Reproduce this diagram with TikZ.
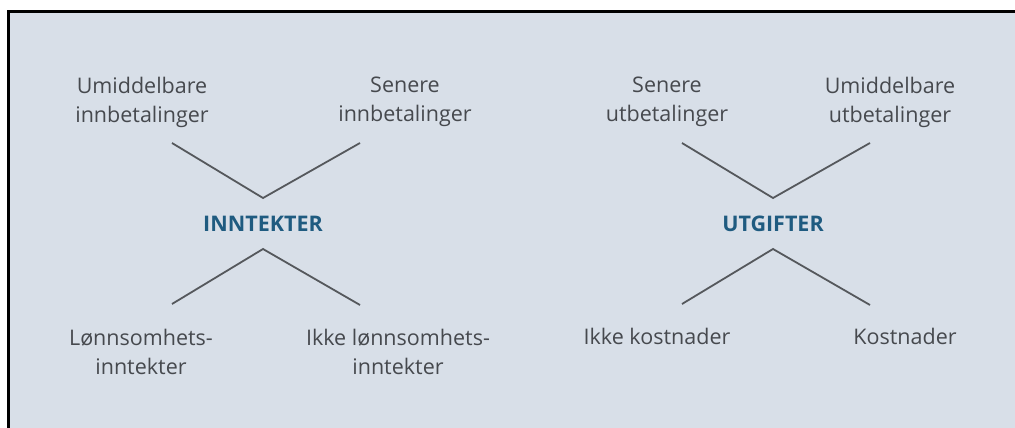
\documentclass[tikz,border=0pt]{standalone}
\usepackage{fontspec}
\setmainfont{Open Sans}

\definecolor{panelbg}{HTML}{D8DFE8}
\definecolor{leaftext}{HTML}{46494E}
\definecolor{headtext}{HTML}{1F5B80}
\definecolor{branchline}{HTML}{55585C}

\newcommand\topy{102}
\newcommand\boty{352}
\newcommand\heady{231}
\newcommand\forky{198}
\newcommand\splity{249}

\tikzset{
  leafbox/.style={text=leaftext, align=center, inner sep=0pt,
    font=\fontsize{21.5}{29}\selectfont},
  headbox/.style={text=headtext, inner sep=0pt, anchor=base,
    font=\fontsize{21.5}{29}\selectfont\bfseries},
  branch/.style={draw=branchline, line width=1.8pt},
}

\begin{document}
\begin{tikzpicture}[x=1pt,y=-1pt]
    \useasboundingbox (0,0) rectangle (1015,428);
    \fill[panelbg] (8,12) rectangle (1015,428);
    \draw[line width=3pt] (8,428) -- (8,12) -- (1015,12);

    % inntekter
    \node[headbox] (inntekter) at (263,\heady) {INNTEKTER};
    \node[leafbox] (umid-inn) at (142,\topy) {Umiddelbare\\innbetalinger};
    \node[leafbox] (sen-inn) at (405,\topy) {Senere\\innbetalinger};
    \node[leafbox] (lonn) at (141,\boty) {Lønnsomhets-\\inntekter};
    \node[leafbox] (ikke-lonn) at (398,\boty) {Ikke lønnsomhets-\\inntekter};

    \coordinate (inn-fork) at (263,\forky);
    \coordinate (inn-split) at (263,\splity);
    \coordinate (inn-ul) at (172,143);
    \coordinate (inn-ur) at (360,143);
    \coordinate (inn-ll) at (172,304);
    \coordinate (inn-lr) at (360,305);
    \draw[branch] (inn-ul) -- (inn-fork) -- (inn-ur);
    \draw[branch] (inn-ll) -- (inn-split) -- (inn-lr);

    % utgifter
    \node[headbox] (utgifter) at (773,\heady) {UTGIFTER};
    \node[leafbox] (sen-ut) at (667,\topy) {Senere\\utbetalinger};
    \node[leafbox] (umid-ut) at (890,\topy) {Umiddelbare\\utbetalinger};
    \node[leafbox,anchor=base] (ikke-kost) at (657,344) {Ikke kostnader};
    \node[leafbox,anchor=base] (kost) at (905,344) {Kostnader};

    \coordinate (ut-fork) at (773,\forky);
    \coordinate (ut-split) at (773,\splity);
    \coordinate (ut-ul) at (682,143);
    \coordinate (ut-ur) at (870,143);
    \coordinate (ut-ll) at (682,304);
    \coordinate (ut-lr) at (870,305);
    \draw[branch] (ut-ul) -- (ut-fork) -- (ut-ur);
    \draw[branch] (ut-ll) -- (ut-split) -- (ut-lr);
\end{tikzpicture}
\end{document}
